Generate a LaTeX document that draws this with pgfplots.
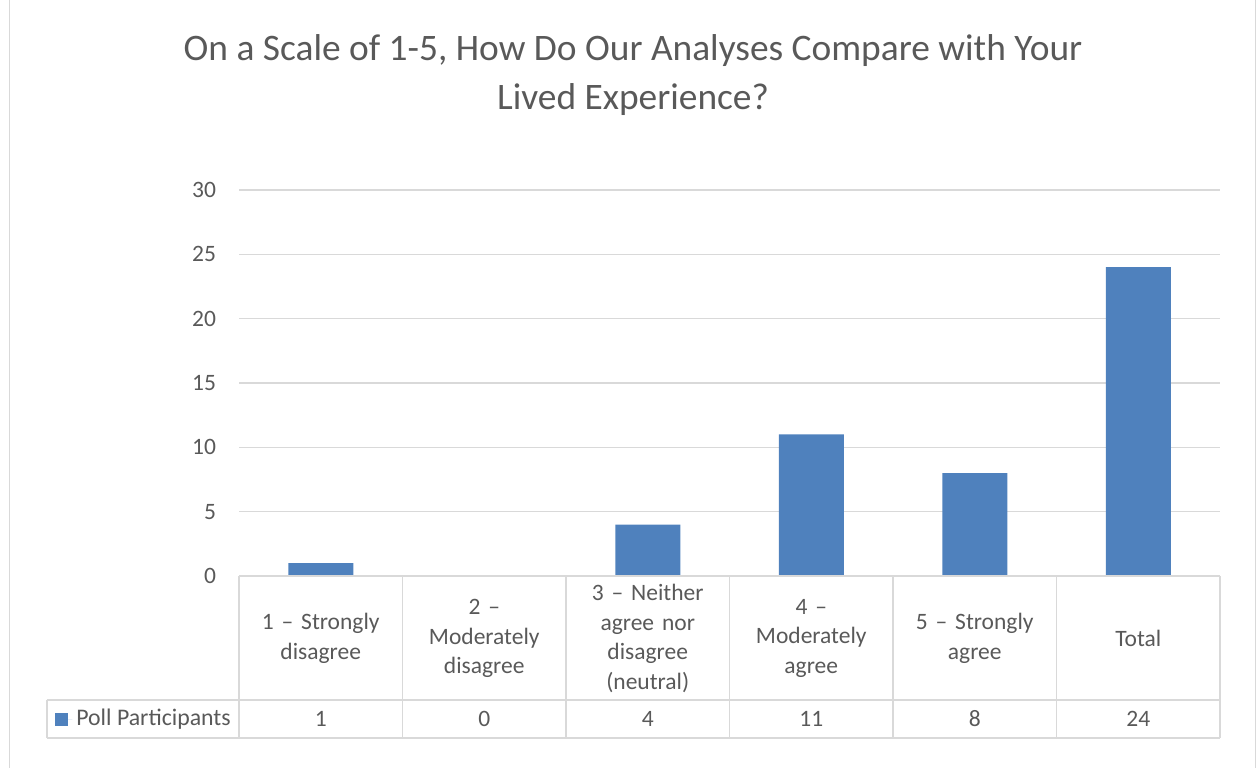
\documentclass[border=0pt]{standalone}
\usepackage{fontspec}
\setmainfont{Carlito}
\usepackage{pgfplots}
\usepackage{pgfplotstable}
\pgfplotsset{compat=1.18}
\definecolor{barblue}{HTML}{4F81BD}
\definecolor{txt}{HTML}{595959}
\definecolor{gridc}{HTML}{D9D9D9}
\pgfplotstableread{
x y
0 1
1 0
2 4
3 11
4 8
5 24
}\datatable
\begin{document}
\begin{tikzpicture}
\useasboundingbox (0pt,0pt) rectangle (628.5pt,383.5pt);
\draw[gridc,line width=0.75pt] (4.75pt,-3pt) -- (4.75pt,386pt);
\draw[gridc,line width=0.75pt] (627.75pt,-3pt) -- (627.75pt,386pt);
\node[align=center, color=txt, font=\fontsize{18.7}{24.5}\selectfont] at (316.5pt,346pt) {On a Scale of 1-5, How Do Our Analyses Compare with Your\\Lived Experience?};
\begin{axis}[
  at={(119.5pt,95.5pt)}, anchor=south west,
  scale only axis, width=490.5pt, height=193pt,
  xmin=-0.5, xmax=5.5, ymin=0, ymax=30,
  ytick={0,5,...,30},
  xtick={0,...,5},
  xticklabels={{1 – Strongly\\disagree},{2 –\\Moderately\\disagree},{3 – Neither\\agree nor\\disagree\\(neutral)},{4 –\\Moderately\\agree},{5 – Strongly\\agree},{Total}},
  major tick length=0pt,
  axis line style={draw=none},
  ymajorgrids, grid style={gridc, line width=0.75pt},
  tick label style={color=txt, font=\fontsize{11.75}{14.85}\selectfont},
  yticklabel style={xshift=-8pt},
  xticklabel style={text width=78pt, align=center, minimum height=62pt, anchor=north, inner sep=0pt, yshift=0pt},
  /pgf/number format/assume math mode=true,
  clip=false,
  legend style={at={(-0.1876,-0.3705)}, anchor=west, draw=none, fill=none, font=\fontsize{11.9}{14}\selectfont, text=txt, inner sep=0pt, legend cell align=left},
  legend image code/.code={\fill[#1] (0pt,-3.25pt) rectangle (6.5pt,3.25pt); \path (0pt,0pt) -- (8.5pt,0pt);},
]
\addplot[ybar, bar width=32.5pt, fill=barblue, draw=none] table[x=x,y=y]{\datatable};
\addlegendentry{Poll Participants}
\addplot[draw=none, mark=none, nodes near coords, point meta=\thisrow{y},
  nodes near coords style={anchor=center, color=txt, font=\fontsize{11.75}{14}\selectfont, /pgf/number format/assume math mode=true}, forget plot]
  table[x=x, y expr=-11.11]{\datatable};
\draw[gridc, line width=0.75pt] (axis cs:-0.5,0) -- (axis cs:5.5,0);
\draw[gridc, line width=0.75pt] (axis cs:-1.675,-9.64) -- (axis cs:5.5,-9.64);
\draw[gridc, line width=0.75pt] (axis cs:-1.675,-12.59) -- (axis cs:5.5,-12.59);
\draw[gridc, line width=0.75pt] (axis cs:-1.675,-9.64) -- (axis cs:-1.675,-12.59);
\draw[gridc, line width=0.75pt] (axis cs:-0.5,0) -- (axis cs:-0.5,-12.59);
\draw[gridc, line width=0.75pt] (axis cs:0.5,0) -- (axis cs:0.5,-12.59);
\draw[gridc, line width=0.75pt] (axis cs:1.5,0) -- (axis cs:1.5,-12.59);
\draw[gridc, line width=0.75pt] (axis cs:2.5,0) -- (axis cs:2.5,-12.59);
\draw[gridc, line width=0.75pt] (axis cs:3.5,0) -- (axis cs:3.5,-12.59);
\draw[gridc, line width=0.75pt] (axis cs:4.5,0) -- (axis cs:4.5,-12.59);
\draw[gridc, line width=0.75pt] (axis cs:5.5,0) -- (axis cs:5.5,-12.59);
\end{axis}
\end{tikzpicture}
\end{document}
